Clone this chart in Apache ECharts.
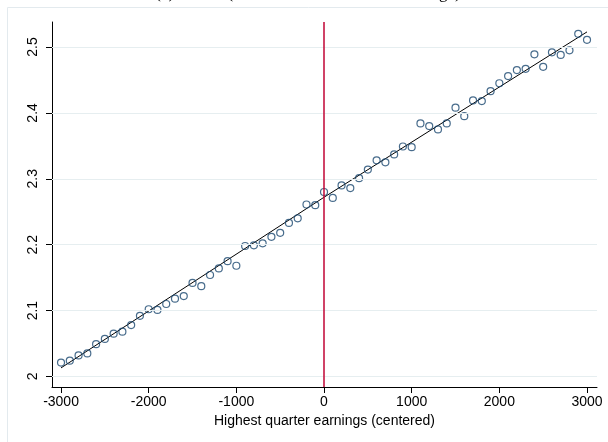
<!DOCTYPE html>
<html>
<head>
<meta charset="utf-8">
<script src="https://cdn.jsdelivr.net/npm/echarts@6/dist/echarts.min.js"></script>
<style>
html,body{margin:0;padding:0;background:#fff;}
#chart{width:608px;height:442px;}
</style>
</head>
<body>
<div id="chart"></div>
<script>
// ---- data ----
var binX = [-3000,-2900,-2800,-2700,-2600,-2500,-2400,-2300,-2200,-2100,
            -2000,-1900,-1800,-1700,-1600,-1500,-1400,-1300,-1200,-1100,
            -1000,-900,-800,-700,-600,-500,-400,-300,-200,-100,
            0,100,200,300,400,500,600,700,800,900,
            1000,1100,1200,1300,1400,1500,1600,1700,1800,1900,
            2000,2100,2200,2300,2400,2500,2600,2700,2800,2900,3000];
var binMean = [2.021,2.024,2.032,2.035,2.049,2.057,2.065,2.068,2.078,2.092,
               2.102,2.101,2.110,2.118,2.122,2.142,2.137,2.154,2.164,2.175,
               2.168,2.198,2.199,2.202,2.212,2.218,2.233,2.240,2.261,2.260,
               2.280,2.271,2.290,2.286,2.301,2.314,2.328,2.325,2.337,2.349,
               2.348,2.384,2.380,2.375,2.384,2.408,2.395,2.419,2.418,2.433,
               2.445,2.456,2.465,2.467,2.489,2.470,2.492,2.488,2.495,2.520,2.511];
var fitLeftX = [-3000, 0];
var fitLeftY = [2.013, 2.272];
var fitRightX = [0, 3000];
var fitRightY = [2.272, 2.523];
var xTicks = [-3000,-2000,-1000,0,1000,2000,3000];
var yTicks = [2,2.1,2.2,2.3,2.4,2.5];
var cutoff = 0;
var xTitle = 'Highest quarter earnings (centered)';
var figTitle = '(a) Weeks (Rescaled to the bandwidth range)';

function pairs(xs, ys){ return xs.map(function(x,i){ return [x, ys[i]]; }); }

var chart = echarts.init(document.getElementById('chart'), null, {renderer:'canvas'});
var font = 'Liberation Sans, Arial, sans-serif';
var option = {
  animation: false,
  backgroundColor: '#ffffff',
  graphic: [
    {type:'rect', silent:true, shape:{x:7.5,y:7.5,width:700,height:600},
     style:{fill:null, stroke:'#e3eaee', lineWidth:1}, z:-10},
    {type:'text', silent:true, x:308, y:2.5,
     style:{text:figTitle, font:'17px "Liberation Serif", "Times New Roman", serif',
            fill:'#000', textAlign:'center', textVerticalAlign:'bottom'}}
  ],
  grid: {left:52, top:22, right:11, bottom:55, containLabel:false},
  xAxis: {
    type:'value', min:-3103, max:3114,
    axisLine:{show:true, onZero:false, lineStyle:{color:'#000', width:1}},
    axisTick:{show:true, length:6, customValues:xTicks, lineStyle:{color:'#000'}},
    axisLabel:{customValues:xTicks, fontFamily:font, fontSize:14, color:'#000', margin:8,
               formatter:function(v){ return String(v); }},
    splitLine:{show:false},
    name: xTitle, nameLocation:'middle', nameGap:25,
    nameTextStyle:{fontFamily:font, fontSize:14, color:'#000'}
  },
  yAxis: {
    type:'value', min:1.984, max:2.538,
    axisLine:{show:true, onZero:false, lineStyle:{color:'#000', width:1}},
    axisTick:{show:true, length:6, customValues:yTicks, lineStyle:{color:'#000'}},
    axisLabel:{customValues:yTicks, fontFamily:font, fontSize:14, color:'#000', rotate:90, margin:12,
               formatter:function(v){ return String(Math.round(v*10)/10); }},
    splitLine:{show:false}
  },
  series: [
    {type:'line', data:[], silent:true, z:1,
     markLine:{silent:true, symbol:['none','none'], label:{show:false},
       lineStyle:{color:'#e6eef0', width:1, type:'solid'},
       data: yTicks.map(function(t){ return {yAxis:t}; })}},
    {type:'line', data:pairs(fitLeftX, fitLeftY), showSymbol:false, z:3,
     lineStyle:{color:'#000', width:1}},
    {type:'line', data:pairs(fitRightX, fitRightY), showSymbol:false, z:3,
     lineStyle:{color:'#000', width:1}},
    {type:'scatter', data:pairs(binX, binMean), z:4,
     symbol:'circle', symbolSize:7,
     itemStyle:{color:'rgba(255,255,255,0)', borderColor:'#1a476f', borderWidth:1.2}},
    {type:'line', data:[], silent:true, z:5,
     markLine:{silent:true, symbol:['none','none'], label:{show:false},
       lineStyle:{color:'#c10534', width:1.5, type:'solid'},
       data:[{xAxis:cutoff}]}}
  ]
};
chart.setOption(option);
</script>
</body>
</html>
